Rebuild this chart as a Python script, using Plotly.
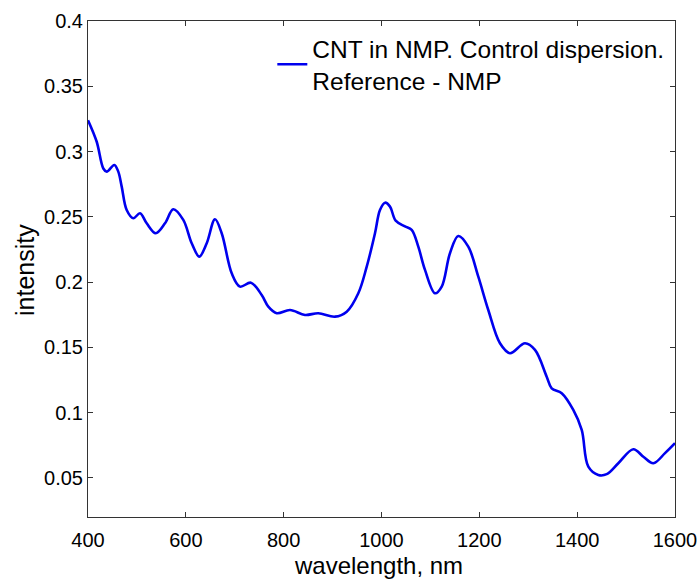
import plotly.graph_objects as go

wavelength = [400, 417.8, 431.3, 438.2, 453.8, 461.9, 468.9, 479.1, 492.6, 506.3, 520, 538.4,
              557.4, 574.4, 594.8, 612, 627.5, 642.7, 659.6, 673.3, 693.8, 710.7, 733, 755.1,
              768.6, 785.8, 813, 843.6, 870.8, 905, 928.9, 952.6, 969.8, 986.7, 996.9, 1007.2,
              1017.4, 1029, 1048, 1061.7, 1075.2, 1088.9, 1109.4, 1123.1, 1140, 1157, 1177.4,
              1197.9, 1218.3, 1242.2, 1262.7, 1293.4, 1313.8, 1337.7, 1347.9, 1368.4, 1392.1,
              1409.3, 1422.8, 1443.2, 1460.4, 1484.1, 1514.8, 1535.3, 1555.7, 1579.6, 1600]
intensity = [0.324, 0.3075, 0.287, 0.2846, 0.2897, 0.2846, 0.2731, 0.2552, 0.2489, 0.2527, 0.245,
             0.2374, 0.245, 0.2558, 0.2476, 0.2297, 0.2195, 0.2297, 0.2481, 0.2374, 0.2067, 0.1965,
             0.1995, 0.1901, 0.1812, 0.1761, 0.1786, 0.1748, 0.1761, 0.1735, 0.1773, 0.1914, 0.2118,
             0.2374, 0.2552, 0.2608, 0.2578, 0.247, 0.2426, 0.2399, 0.2271, 0.2093, 0.1914, 0.1965,
             0.2221, 0.2353, 0.2271, 0.2041, 0.1786, 0.1531, 0.1455, 0.1531, 0.148, 0.1275, 0.1186,
             0.1148, 0.102, 0.0867, 0.0586, 0.0522, 0.0528, 0.0612, 0.0719, 0.0662, 0.0612, 0.0689,
             0.0765]

series_name = "CNT in NMP. Control dispersion.<br>Reference - NMP"
x_title = "wavelength, nm"
y_title = "intensity"
x_ticks = [400, 600, 800, 1000, 1200, 1400, 1600]
y_ticks = [0.05, 0.1, 0.15, 0.2, 0.25, 0.3, 0.35, 0.4]
y_tick_labels = ["0.05", "0.1", "0.15", "0.2", "0.25", "0.3", "0.35", "0.4"]

fig = go.Figure()
fig.add_trace(go.Scatter(x=wavelength, y=intensity, mode="lines", name=series_name,
                         line=dict(color="#0000ee", width=2.6, shape="spline", smoothing=1.0)))

fam = "Liberation Sans, Arial, sans-serif"
tick_font = dict(family=fam, size=20, color="black")
title_font = dict(family=fam, size=24, color="black")
axis_common = dict(showgrid=False, zeroline=False, showline=True, linecolor="#333333",
                   linewidth=1, mirror="ticks", ticks="inside", ticklen=5, tickcolor="#333333",
                   tickfont=tick_font, automargin=False)

W, H = 700, 579
L, R, T, B = 88, 25, 21, 62
pw, ph = W - L - R, H - T - B

fig.update_layout(
    width=W, height=H,
    margin=dict(l=L, r=R, t=T, b=B),
    plot_bgcolor="white", paper_bgcolor="white",
    font=tick_font,
    showlegend=True,
    legend=dict(x=0.314, y=0.99, xanchor="left", yanchor="top", bgcolor="rgba(0,0,0,0)",
                font=dict(family=fam, size=24.5, color="black"), valign="middle"),
    xaxis=dict(range=[400, 1600], tickvals=x_ticks, ticklabelstandoff=5, **axis_common),
    yaxis=dict(range=[0.02, 0.4], tickvals=y_ticks, ticktext=y_tick_labels, **axis_common),
    annotations=[
        dict(text=x_title, xref="paper", yref="paper", x=(378 - L) / pw, y=-(565 - (T + ph)) / ph,
             xanchor="center", yanchor="middle", showarrow=False, font=title_font),
        dict(text=y_title, xref="paper", yref="paper", x=-(L - 25) / pw, y=(T + ph - 270) / ph,
             xanchor="center", yanchor="middle", showarrow=False, font=dict(family=fam, size=25, color="black"),
             textangle=-90),
    ],
)
fig.write_html("out.html", config={"displayModeBar": False},
               post_script="document.body.style.margin='0';document.body.style.overflow='hidden';")
